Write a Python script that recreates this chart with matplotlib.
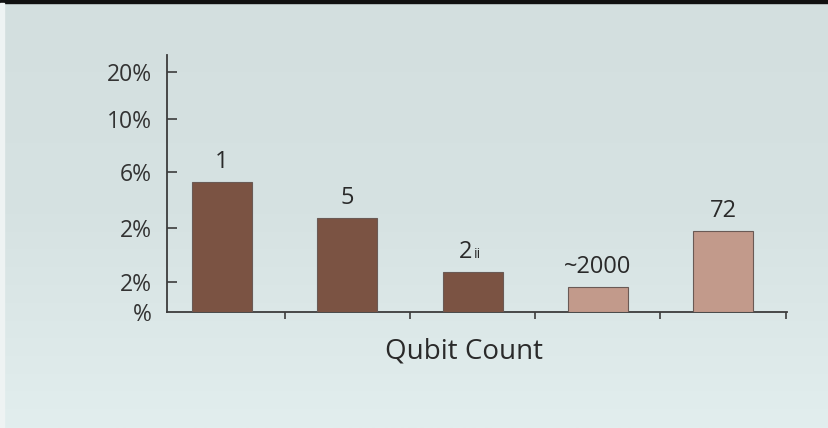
import numpy as np
import matplotlib.pyplot as plt
from matplotlib.patches import Rectangle
from matplotlib.colors import LinearSegmentedColormap

plt.rcParams['font.family'] = ['Open Sans', 'DejaVu Sans']

# data (arbitrary axis units, axis runs 0..100)
labels = ['1', '5', '2', '~2000', '72']
values = [50.6, 36.6, 15.6, 9.7, 31.5]
colors = ['#7b5343', '#7b5343', '#7b5343', '#c29a8b', '#c29a8b']
ytick_pos = [0, 11.7, 32.7, 54.5, 75.1, 93.4]
ytick_lab = ['%', '2%', '2%', '6%', '10%', '20%']

bg = '#d5e1e1'
fig = plt.figure(figsize=(8.29, 4.28), dpi=100)
fig.patch.set_facecolor(bg)

# soft background gradient like the photographed slide
bgax = fig.add_axes([0, 0, 1, 1], zorder=-10)
grad = np.linspace(0, 1, 256).reshape(-1, 1)
cmap = LinearSegmentedColormap.from_list('bg', ['#d3dfdf', '#d6e2e2', '#e2eeee'])
bgax.imshow(grad, aspect='auto', cmap=cmap, extent=[0, 1, 0, 1], origin='upper')
bgax.axis('off')

# frame bits of the screenshot
fig.add_artist(Rectangle((0, 0.992), 1, 0.008, transform=fig.transFigure,
                         color='#111111', zorder=5))
fig.add_artist(Rectangle((0, 0), 0.005, 0.992, transform=fig.transFigure,
                         color='#eef3f3', zorder=5))

ax = fig.add_axes([0.2014, 0.271, 0.7479, 0.6005])
ax.set_facecolor('none')

x = np.arange(len(values))
bars = ax.bar(x, values, width=0.48, color=colors, edgecolor='#6a5a55',
              linewidth=0.8, zorder=3)

for i, (b, lab) in enumerate(zip(bars, labels)):
    cx = b.get_x() + b.get_width() / 2
    top = b.get_height()
    if i == 2:
        ax.annotate(lab, (cx, top), xytext=(-5, 10), textcoords='offset points',
                    ha='center', va='baseline', fontsize=17, color='#2a2a2a')
        ax.annotate('ii', (cx, top), xytext=(1, 10), textcoords='offset points',
                    ha='left', va='baseline', fontsize=10, color='#2a2a2a')
    else:
        ax.annotate(lab, (cx, top), xytext=(0, 10), textcoords='offset points',
                    ha='center', va='baseline', fontsize=17, color='#2a2a2a')

ax.set_xlim(-0.44, 4.51)
ax.set_ylim(0, 100)

for s in ['top', 'right']:
    ax.spines[s].set_visible(False)
for s in ['left', 'bottom']:
    ax.spines[s].set_color('#3c3c3c')
    ax.spines[s].set_linewidth(1.3)

ax.set_yticks(ytick_pos)
ax.set_yticklabels(ytick_lab, fontsize=16.5, color='#333333')
ax.tick_params(axis='y', direction='in', length=7, width=1.2, color='#3c3c3c', pad=11)
ax.set_xticks(x + 0.5)
ax.set_xticklabels([])
ax.tick_params(axis='x', direction='out', length=5, width=1.2, color='#3c3c3c')
ax.yaxis.get_major_ticks()[0].tick1line.set_visible(False)

ax.set_xlabel('Qubit Count', fontsize=20, color='#2a2a2a')
ax.xaxis.set_label_coords(0.479, -0.1)

fig.savefig('out.png', dpi=100, facecolor=bg)
